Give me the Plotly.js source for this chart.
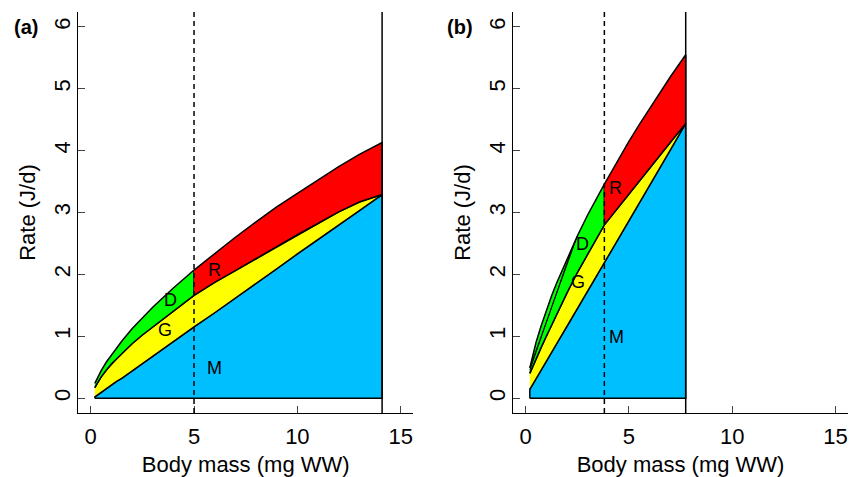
<!DOCTYPE html>
<html>
<head>
<meta charset="utf-8">
<script src="https://cdn.plot.ly/plotly-3.0.1.min.js"></script>
<style>html,body{margin:0;padding:0;background:#fff;}#plot{width:849px;height:477px;}</style>
</head>
<body>
<div id="plot"></div>
<script>
// ---------- Panel (a) data ----------
const massA   = [0.2, 0.3, 0.5, 0.75, 1, 1.25, 1.5, 2, 2.5, 3, 4, 5, 6, 7, 8, 9, 10, 11, 12, 13, 14.1];
const totalA  = [0.24, 0.31, 0.44, 0.58, 0.70, 0.81, 0.92, 1.12, 1.30, 1.47, 1.78, 2.07, 2.34, 2.60, 2.85, 3.09, 3.31, 3.53, 3.74, 3.94, 4.13];
const growthA = [0.17, 0.23, 0.34, 0.45, 0.55, 0.64, 0.72, 0.88, 1.02, 1.15, 1.41, 1.66, 1.87, 2.06, 2.25, 2.45, 2.64, 2.83, 3.01, 3.17, 3.29];
const maintA  = [0.02, 0.04, 0.09, 0.15, 0.21, 0.27, 0.32, 0.44, 0.56, 0.68, 0.91, 1.15, 1.38, 1.62, 1.85, 2.09, 2.33, 2.56, 2.80, 3.03, 3.29];
const matureA = 5;      // dashed line (maturation mass)
const finalA  = 14.1;   // solid line (final mass)

// ---------- Panel (b) data ----------
const massB   = [0.2, 0.3, 0.5, 0.75, 1, 1.25, 1.5, 2, 2.5, 3, 3.81, 4.5, 5, 5.5, 6, 6.5, 7, 7.75];
const totalB  = [0.49, 0.64, 0.90, 1.17, 1.42, 1.65, 1.86, 2.25, 2.62, 2.96, 3.46, 3.87, 4.15, 4.42, 4.68, 4.94, 5.19, 5.55];
const growthB = [0.40, 0.48, 0.64, 0.82, 1.00, 1.18, 1.36, 1.70, 2.03, 2.33, 2.80, 3.09, 3.30, 3.50, 3.71, 3.92, 4.13, 4.44];
const maintB  = [0.14, 0.20, 0.31, 0.45, 0.59, 0.73, 0.88, 1.16, 1.45, 1.73, 2.19, 2.58, 2.87, 3.15, 3.44, 3.72, 4.01, 4.44];
const matureB = 3.81;
const finalB  = 7.75;
// thin chord lines inside the D area of panel (b)
const chordsBx = [[0.2, 2.5], [0.2, 2.2]];
const chordsBy = [[0.49, 2.62], [0.45, 2.38]];

// ---------- labels ----------
const xTicks = [0, 5, 10, 15];
const yTicks = [0, 1, 2, 3, 4, 5, 6];
const regionLabels = ['R', 'D', 'G', 'M'];
const labelAx = [6.01, 3.87, 3.60, 5.98];
const labelAy = [2.07, 1.58, 1.10, 0.49];
const labelBx = [4.37, 2.74, 2.55, 4.41];
const labelBy = [3.39, 2.49, 1.88, 0.99];
const panelNames = ['(a)', '(b)'];
const xTitle = 'Body mass (mg WW)';
const yTitle = 'Rate (J/d)';

const colM = '#00BFFF', colG = '#FFFF00', colD = '#00FF00', colR = '#FF0000';
const FONT = '"Liberation Sans", Arial, Helvetica, sans-serif';

function poly(xs, ys, fill, xa, ya) {
  return {x: xs, y: ys, type: 'scatter', mode: 'lines', fill: 'toself', fillcolor: fill,
          line: {color: '#000', width: 1.5}, xaxis: xa, yaxis: ya, hoverinfo: 'skip', showlegend: false};
}
function panelTraces(mass, total, growth, maint, mature, xa, ya) {
  const k = mass.indexOf(mature);
  const n = mass.length;
  const rev = a => a.slice().reverse();
  const t = [];
  t.push(poly([mass[0]].concat(mass, [mass[n-1], mass[0]]), [0].concat(maint, [0, 0]), colM, xa, ya));
  t.push(poly(mass.concat(rev(mass)), growth.concat(rev(maint)), colG, xa, ya));
  const m1 = mass.slice(0, k+1);
  t.push(poly(m1.concat(rev(m1)), total.slice(0, k+1).concat(rev(growth.slice(0, k+1))), colD, xa, ya));
  const m2 = mass.slice(k);
  t.push(poly(m2.concat(rev(m2)), total.slice(k).concat(rev(growth.slice(k))), colR, xa, ya));
  return t;
}

let traces = [];
traces = traces.concat(panelTraces(massA, totalA, growthA, maintA, matureA, 'x', 'y'));
traces = traces.concat(panelTraces(massB, totalB, growthB, maintB, matureB, 'x2', 'y2'));
for (let i = 0; i < chordsBx.length; i++) {
  traces.push({x: chordsBx[i], y: chordsBy[i], type: 'scatter', mode: 'lines',
    line: {color: '#000', width: 1}, xaxis: 'x2', yaxis: 'y2', hoverinfo: 'skip', showlegend: false});
}

function xax(domain) {
  return {domain: domain, range: [-0.6, 15.6], tickvals: xTicks, ticktext: xTicks.map(String),
    showline: true, linecolor: '#000', linewidth: 1.5, mirror: false, showgrid: false, zeroline: false,
    ticks: 'inside', ticklen: 7, tickwidth: 1, tickcolor: '#444', ticklabelstandoff: 3,
    tickfont: {family: FONT, size: 22, color: '#000'},
    title: {text: xTitle, font: {family: FONT, size: 22, color: '#000'}, standoff: 11}, fixedrange: true};
}
function yax(anchor) {
  return {domain: [0.1342, 0.9748], range: [-0.24, 6.24], tickvals: yTicks, ticktext: yTicks.map(String),
    anchor: anchor, showline: true, linecolor: '#000', linewidth: 1.5, mirror: false, showgrid: false, zeroline: false,
    ticks: 'inside', ticklen: 7, tickwidth: 1, tickcolor: '#444', tickangle: -90, ticklabelstandoff: -2,
    tickfont: {family: FONT, size: 22, color: '#000'},
    title: {text: yTitle, font: {family: FONT, size: 22, color: '#000'}, standoff: 8}, fixedrange: true};
}

const shapes = [];
function vlines(xref, yref, mature, fin) {
  shapes.push({type: 'line', xref: xref, yref: yref + ' domain', x0: mature, x1: mature, y0: 0, y1: 1,
               line: {color: '#000', width: 1.5, dash: '5px,4px'}});
  shapes.push({type: 'line', xref: xref, yref: yref + ' domain', x0: fin, x1: fin, y0: 0, y1: 1,
               line: {color: '#000', width: 1.5}});
}
vlines('x', 'y', matureA, finalA);
vlines('x2', 'y2', matureB, finalB);

const annotations = [];
regionLabels.forEach((s, i) => {
  annotations.push({text: s, x: labelAx[i], y: labelAy[i], xref: 'x', yref: 'y', showarrow: false,
    font: {family: FONT, size: 18, color: '#000'}});
  annotations.push({text: s, x: labelBx[i], y: labelBy[i], xref: 'x2', yref: 'y2', showarrow: false,
    font: {family: FONT, size: 18, color: '#000'}});
});
annotations.push({text: '<b>' + panelNames[0] + '</b>', x: 25.5/849, y: 1 - 27/477, xref: 'paper', yref: 'paper',
  showarrow: false, xanchor: 'center', yanchor: 'middle', font: {family: FONT, size: 20, color: '#000'}});
annotations.push({text: '<b>' + panelNames[1] + '</b>', x: 459.7/849, y: 1 - 27/477, xref: 'paper', yref: 'paper',
  showarrow: false, xanchor: 'center', yanchor: 'middle', font: {family: FONT, size: 20, color: '#000'}});

const layout = {
  width: 849, height: 477, margin: {l: 0, r: 0, t: 0, b: 0}, paper_bgcolor: '#fff', plot_bgcolor: 'rgba(0,0,0,0)',
  showlegend: false, font: {family: FONT, color: '#000'},
  xaxis: xax([78.3/849, 413.1/849]), yaxis: yax('x'),
  xaxis2: Object.assign(xax([513.3/849, 847.8/849]), {anchor: 'y2'}), yaxis2: yax('x2'),
  shapes: shapes, annotations: annotations
};
layout.xaxis.anchor = 'y';

Plotly.newPlot('plot', traces, layout, {displayModeBar: false, staticPlot: true});
</script>
</body>
</html>
